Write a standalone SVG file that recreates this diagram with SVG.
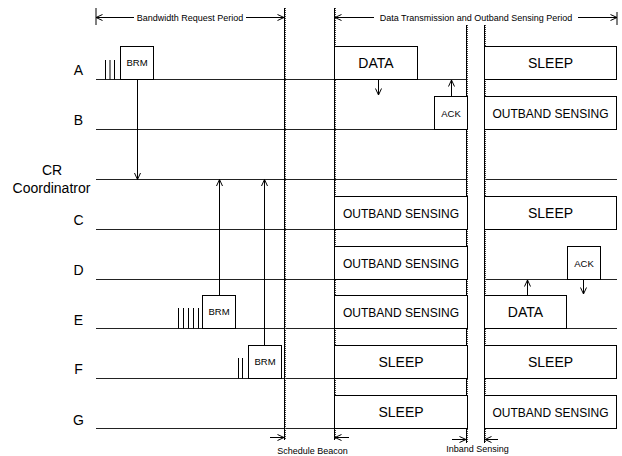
<svg xmlns="http://www.w3.org/2000/svg" width="622" height="456" viewBox="0 0 622 456">
<style>
text{font-family:"Liberation Sans",Arial,sans-serif;fill:#000}
.lbl{font-size:14px;text-anchor:middle}
.big{font-size:14px;text-anchor:middle}
.mid{font-size:12px;text-anchor:middle}
.sm{font-size:9.5px;text-anchor:middle}
.ann{font-size:9px;text-anchor:middle}
.box{fill:#fff;stroke:#000;stroke-width:1}
.row{stroke:#222;stroke-width:1;fill:none}
.div{stroke:#000;stroke-width:1;fill:none}
.dot{stroke:#444;stroke-width:1;stroke-dasharray:1 1;fill:none}
.ln{stroke:#000;stroke-width:1;fill:none}
.arr{stroke:#000;stroke-width:1;fill:none;marker-end:url(#ah)}
.tick{stroke:#000;stroke-width:1}
</style>
<defs>
<marker id="ah" viewBox="0 0 8 8" refX="7.5" refY="4" markerWidth="8" markerHeight="8" markerUnits="userSpaceOnUse" orient="auto">
<path d="M1,1 L7.5,4 L1,7" fill="none" stroke="#000" stroke-width="1"/>
</marker>
</defs>
<rect width="622" height="456" fill="#fff"/>

<g id="rows">
<path class="row" d="M96,79.5H467 M484,79.5H617 M96,129.5H467 M484,129.5H617 M96,179.5H467 M484,179.5H617 M96,229.5H467 M484,229.5H617 M96,279.5H467 M484,279.5H617 M96,328.5H467 M484,328.5H617 M96,378.5H467 M484,378.5H617 M96,428.5H467 M484,428.5H617"/>
</g>

<g id="labels">
<text class="lbl" x="78.5" y="75">A</text>
<text class="lbl" x="78.5" y="125">B</text>
<text class="lbl" x="52" y="175">CR</text>
<text class="lbl" x="51.5" y="192.5">Coordinatror</text>
<text class="lbl" x="78.5" y="225">C</text>
<text class="lbl" x="78.5" y="275">D</text>
<text class="lbl" x="78.5" y="324.5">E</text>
<text class="lbl" x="78.5" y="374">F</text>
<text class="lbl" x="78.5" y="424.5">G</text>
</g>

<g id="dividers">
<line class="div" x1="284.5" y1="8" x2="284.5" y2="440"/>
<line class="dot" x1="285.5" y1="8" x2="285.5" y2="440"/>
<line class="div" x1="334.5" y1="8" x2="334.5" y2="440"/>
<line class="dot" x1="335.5" y1="8" x2="335.5" y2="440"/>
<line class="div" x1="466.5" y1="25" x2="466.5" y2="443"/>
<line class="dot" x1="467.5" y1="25" x2="467.5" y2="443"/>
<line class="div" x1="484.5" y1="25" x2="484.5" y2="443"/>
<line class="dot" x1="485.5" y1="25" x2="485.5" y2="443"/>
<line class="ln" x1="96" y1="8" x2="96" y2="25"/>
<line class="ln" x1="617" y1="12" x2="617" y2="25"/>
</g>

<g id="node-A-ticks">
<path class="tick" d="M105.5,60V79.5 M110,60V79.5 M114.5,60V79.5"/>
</g>
<g id="node-A-BRM"><rect class="box" x="120.5" y="46.5" width="33" height="33"/><text class="sm" x="137" y="66">BRM</text></g>
<g id="node-A-DATA"><rect class="box" x="334.5" y="46.5" width="83" height="33"/><text class="big" x="376" y="68">DATA</text></g>
<g id="node-A-SLEEP"><rect class="box" x="484.5" y="46.5" width="132" height="33"/><text class="big" x="550.5" y="68">SLEEP</text></g>

<g id="node-B-ACK"><rect class="box" x="434.5" y="96.5" width="33" height="33"/><text class="sm" x="451" y="116.5">ACK</text></g>
<g id="node-B-OS"><rect class="box" x="484.5" y="96.5" width="132" height="33"/><text class="mid" x="550.5" y="117.5">OUTBAND SENSING</text></g>

<g id="node-C-OS"><rect class="box" x="334.5" y="196.5" width="133" height="33"/><text class="mid" x="401" y="217.5">OUTBAND SENSING</text></g>
<g id="node-C-SLEEP"><rect class="box" x="484.5" y="196.5" width="132" height="33"/><text class="big" x="550.5" y="218">SLEEP</text></g>

<g id="node-D-OS"><rect class="box" x="334.5" y="246.5" width="133" height="33"/><text class="mid" x="401" y="267.5">OUTBAND SENSING</text></g>
<g id="node-D-ACK"><rect class="box" x="567.5" y="246.5" width="33" height="33"/><text class="sm" x="584" y="266.5">ACK</text></g>

<g id="node-E-ticks">
<path class="tick" d="M178.5,308V328.5 M183.5,308V328.5 M188.5,308V328.5 M193.5,308V328.5 M198.5,308V328.5"/>
</g>
<g id="node-E-BRM"><rect class="box" x="202.5" y="295.5" width="33" height="33"/><text class="sm" x="219" y="315">BRM</text></g>
<g id="node-E-OS"><rect class="box" x="334.5" y="295.5" width="133" height="33"/><text class="mid" x="401" y="316.5">OUTBAND SENSING</text></g>
<g id="node-E-DATA"><rect class="box" x="484.5" y="295.5" width="82" height="33"/><text class="big" x="525.5" y="317">DATA</text></g>

<g id="node-F-ticks">
<path class="tick" d="M238.5,358V378.5 M242.5,358V378.5"/>
</g>
<g id="node-F-BRM"><rect class="box" x="248.5" y="345.5" width="33" height="33"/><text class="sm" x="265" y="365">BRM</text></g>
<g id="node-F-SLEEP1"><rect class="box" x="334.5" y="345.5" width="133" height="33"/><text class="big" x="401" y="367">SLEEP</text></g>
<g id="node-F-SLEEP2"><rect class="box" x="484.5" y="345.5" width="132" height="33"/><text class="big" x="550.5" y="367">SLEEP</text></g>

<g id="node-G-SLEEP"><rect class="box" x="334.5" y="395.5" width="133" height="33"/><text class="big" x="401" y="417">SLEEP</text></g>
<g id="node-G-OS"><rect class="box" x="484.5" y="395.5" width="132" height="33"/><text class="mid" x="550.5" y="416.5">OUTBAND SENSING</text></g>

<g id="connectors">
<line class="arr" x1="137.5" y1="79.5" x2="137.5" y2="179.5"/>
<line class="arr" x1="219.5" y1="295.5" x2="219.5" y2="179.5"/>
<line class="arr" x1="264.5" y1="345.5" x2="264.5" y2="179.5"/>
<line class="arr" x1="378.5" y1="79.5" x2="378.5" y2="95"/>
<line class="arr" x1="451.5" y1="96.5" x2="451.5" y2="80"/>
<line class="arr" x1="527.5" y1="295.5" x2="527.5" y2="280"/>
<line class="arr" x1="583.5" y1="279.5" x2="583.5" y2="294"/>
<line class="arr" x1="134" y1="17.5" x2="96" y2="17.5"/>
<line class="arr" x1="246" y1="17.5" x2="284" y2="17.5"/>
<line class="arr" x1="374" y1="17.5" x2="335" y2="17.5"/>
<line class="arr" x1="578" y1="17.5" x2="617" y2="17.5"/>
<line class="arr" x1="270" y1="437.5" x2="284" y2="437.5"/>
<line class="arr" x1="349" y1="437.5" x2="335" y2="437.5"/>
<line class="arr" x1="452" y1="439.5" x2="466" y2="439.5"/>
<line class="arr" x1="498" y1="439.5" x2="485" y2="439.5"/>
</g>

<g id="annotations">
<text class="ann" x="190" y="20.5">Bandwidth Request Period</text>
<text class="ann" x="476" y="20.5">Data Transmission and Outband Sensing Period</text>
<text class="ann" x="312.5" y="454">Schedule Beacon</text>
<text class="ann" x="477.5" y="452">Inband Sensing</text>
</g>
</svg>
